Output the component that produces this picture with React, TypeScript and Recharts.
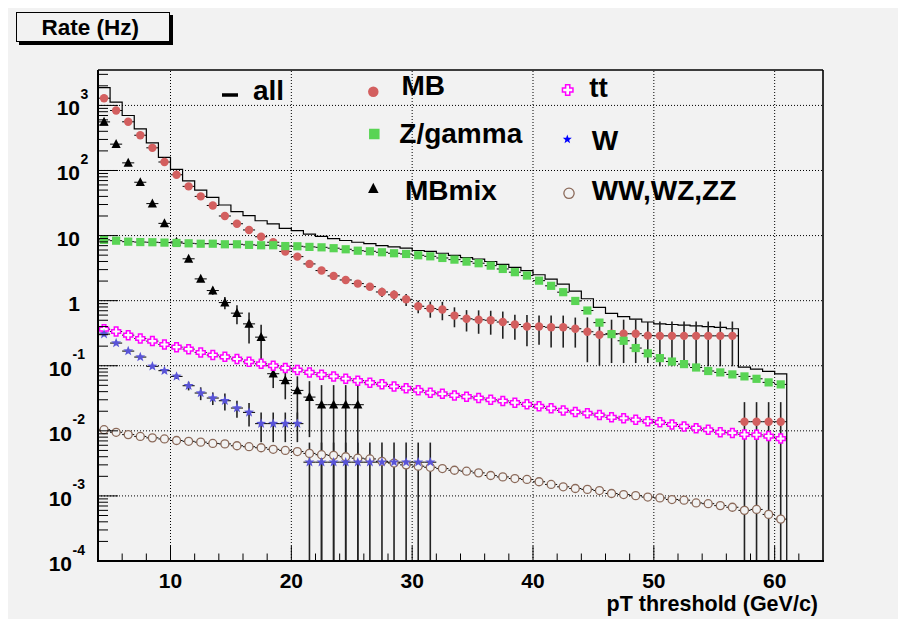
import React from 'react';
import { ComposedChart, Scatter, Line, XAxis, YAxis, ErrorBar, ReferenceLine } from 'recharts';

// canvas / frame geometry, in chart pixels
const CW = 898;
const CH = 611;
const PLOT_LEFT = 90;
const PLOT_RIGHT = 815;
const PLOT_TOP = 62;
const PLOT_BOTTOM = 553;
const BG = '#f2f2f2';
const FONT = '"Liberation Sans", Arial, Helvetica, sans-serif';

const X_MIN = 4;
const X_MAX = 64;
const Y_MIN = 1e-4;
const Y_MAX = 3500;
const BIN_LOW = 4; // bins are 1 GeV/c wide, first one starts at 4

// axis ticks
const xMajorTicks = [10, 20, 30, 40, 50, 60];
const xTickLabels = ['10', '20', '30', '40', '50', '60'];
const xMinorTicks = [6, 8, 12, 14, 16, 18, 22, 24, 26, 28, 32, 34, 36, 38, 42, 44, 46, 48, 52, 54, 56, 58, 62];
const yMajorTicks = [1e-4, 1e-3, 1e-2, 1e-1, 1, 10, 100, 1000];
const yTickBase = ['10', '10', '10', '10', '1', '10', '10', '10'];
const yTickExp = ['-4', '-3', '-2', '-1', '', '', '2', '3'];
const yMinorSteps = [2, 3, 4, 5, 6, 7, 8, 9];

// rates (Hz) per pT-threshold bin, bins 4-5, 5-6, ...
const allRate = [
  1870, 1120, 700, 436, 266, 159, 104, 69.5, 50, 38.7, 29.5, 23.3, 20.2, 16.9, 15.1, 12.9, 11.9, 10.5, 9.7,
  9.0, 8.4, 7.9, 7.5, 7.0, 6.7, 6.4, 5.9, 5.7, 5.35, 4.95, 4.6, 4.35, 4.0, 3.6, 3.25, 2.9, 2.5, 2.15,
  1.79, 1.4, 1.07, 0.79, 0.64, 0.57, 0.52, 0.47, 0.44, 0.43, 0.42, 0.41, 0.4, 0.39, 0.37, 0.095, 0.089, 0.082, 0.075,
];

const mbRate = [
  1290, 835, 560, 348, 223, 135, 86, 57, 40, 29, 20, 15.2, 12.2, 9.6, 7.9, 5.7, 4.75, 3.67, 2.9, 2.4,
  2.08, 1.83, 1.64, 1.36, 1.23, 1.05, 0.82, 0.757, 0.73, 0.59, 0.526, 0.51, 0.5, 0.47, 0.43, 0.4, 0.4, 0.39, 0.39, 0.37,
  0.333, 0.3, 0.31, 0.31, 0.31, 0.29, 0.288, 0.288, 0.288, 0.288, 0.288, 0.288, 0.288, 0.0138, 0.0138, 0.0138, 0.0138,
];
const mbErr = [
  0, 0, 0, 0, 0, 0, 0, 0, 0, 0, 0, 0, 0, 0, 0, 0, 0, 0, 0, 0,
  0.05, 0.08, 0.15, 0.22, 0.2, 0.22, 0.18, 0.21, 0.23, 0.2, 0.19, 0.2, 0.2, 0.21, 0.18, 0.2, 0.19, 0.2, 0.2, 0.18,
  0.22, 0.2, 0.2, 0.2, 0.2, 0.18, 0.19, 0.19, 0.19, 0.19, 0.19, 0.19, 0.19, 0.0138, 0.0138, 0.0138, 0.0138,
];

const zRate = [
  8.6, 8.35, 8.06, 7.95, 7.9, 7.8, 7.7, 7.6, 7.5, 7.5, 7.35, 7.35, 7.2, 7.1, 7.1, 6.9, 6.85, 6.7, 6.6, 6.4,
  6.16, 5.86, 5.74, 5.54, 5.35, 5.22, 4.98, 4.8, 4.53, 4.27, 3.98, 3.76, 3.45, 3.07, 2.74, 2.43, 2.03, 1.69, 1.35, 0.99,
  0.705, 0.46, 0.306, 0.242, 0.187, 0.155, 0.131, 0.116, 0.106, 0.094, 0.083, 0.079, 0.0736, 0.0686, 0.063, 0.0555, 0.0517,
];

const mbmixRate = [
  558, 254, 131, 66, 31, 15.4, 8.0, 4.4, 2.16, 1.43, 0.935, 0.643, 0.44, 0.275, 0.0754, 0.0595, 0.0418, 0.033,
  0.0252, 0.0252, 0.0252, 0.0252,
];
const mbmixErr = [
  0, 0, 0, 0, 0, 0, 0, 0.35, 0.12, 0.2, 0.2, 0.21, 0.22, 0.15, 0.03, 0.029, 0.027, 0.025,
  0.0252, 0.0252, 0.0252, 0.0252,
];

const ttRate = [
  0.365, 0.336, 0.295, 0.262, 0.239, 0.212, 0.193, 0.18, 0.16, 0.146, 0.137, 0.127, 0.115, 0.107, 0.1, 0.092, 0.086, 0.079, 0.073, 0.0686,
  0.063, 0.059, 0.055, 0.052, 0.048, 0.045, 0.042, 0.0385, 0.037, 0.035, 0.0335, 0.032, 0.03, 0.0288, 0.0271, 0.0255, 0.0238, 0.0222, 0.0206, 0.0195,
  0.0186, 0.0175, 0.0161, 0.0156, 0.0148, 0.014, 0.0135, 0.0125, 0.0117, 0.011, 0.0104, 0.0095, 0.0093, 0.0088, 0.0087, 0.0083, 0.0076,
];

const wRate = [
  0.306, 0.223, 0.168, 0.136, 0.098, 0.084, 0.0686, 0.0493, 0.0381, 0.0319, 0.029, 0.0224, 0.0192, 0.0129, 0.0129, 0.0129, 0.0129,
  0.0033, 0.0033, 0.0033, 0.0033, 0.0033, 0.0033, 0.0033, 0.0033, 0.0033, 0.0033, 0.0033,
];
const wErr = [
  0, 0, 0, 0, 0.005, 0.005, 0.006, 0.0075, 0.0085, 0.007, 0.0085, 0.0065, 0.0075, 0.0062, 0.0062, 0.0062, 0.0062,
  0.0033, 0.0033, 0.0033, 0.0033, 0.0033, 0.0033, 0.0033, 0.0033, 0.0033, 0.0033, 0.0033,
];

const dibosonRate = [
  0.0104, 0.0095, 0.00875, 0.0082, 0.0078, 0.0075, 0.0071, 0.0069, 0.0067, 0.0064, 0.0063, 0.0059, 0.0057, 0.0055, 0.0052, 0.005, 0.0048, 0.0045, 0.0043, 0.0042,
  0.004, 0.0038, 0.0037, 0.0034, 0.0032, 0.003, 0.00286, 0.00275, 0.00263, 0.00248, 0.0024, 0.00226, 0.00206, 0.00196, 0.00185, 0.00179, 0.00165, 0.0015, 0.00138, 0.0013,
  0.00126, 0.00121, 0.00109, 0.00105, 0.00101, 0.00096, 0.00093, 0.00088, 0.00086, 0.00078, 0.00076, 0.00071, 0.00067, 0.0006, 0.00062, 0.00052, 0.00044,
];

const MB_COLOR = '#d35f5f';
const Z_COLOR = '#59d454';
const MBMIX_COLOR = '#000000';
const TT_COLOR = '#ff00ff';
const W_COLOR = '#5954d8';
const W_LEGEND_COLOR = '#0000ff';
const VV_COLOR = '#8b6a5a';

// bin-centred points; y error clipped at the bottom of the log axis
const toPoints = (values: number[], sigma?: number[]) =>
  values.map((v, i) => {
    const s = sigma ? sigma[i] : 0;
    return { x: BIN_LOW + i + 0.5, y: v, ex: 0.5, ey: [Math.min(s, v - Y_MIN), s] };
  });

const allSteps = [...allRate.map((v, i) => ({ x: BIN_LOW + i, y: v })), { x: BIN_LOW + allRate.length, y: Y_MIN }];

const yMinorTicks = yMajorTicks.flatMap((d) => yMinorSteps.map((m) => m * d)).filter((v) => v < Y_MAX);
const yAllTicks = [...yMajorTicks, ...yMinorTicks].sort((a, b) => a - b);
const xAllTicks = [...xMajorTicks, ...xMinorTicks].sort((a, b) => a - b);

// ---- markers ----
const starPts = (cx: number, cy: number, R: number) => {
  const pts: string[] = [];
  for (let k = 0; k < 10; k++) {
    const rr = k % 2 === 0 ? R : R * 0.42;
    const a = -Math.PI / 2 + (k * Math.PI) / 5;
    pts.push(`${cx + rr * Math.cos(a)},${cy + rr * Math.sin(a)}`);
  }
  return pts.join(' ');
};

const crossPts = (cx: number, cy: number, s: number) => {
  const a = s / 2;
  const b = s * 0.2;
  const p = [[-b, -a], [b, -a], [b, -b], [a, -b], [a, b], [b, b], [b, a], [-b, a], [-b, b], [-a, b], [-a, -b], [-b, -b]];
  return p.map(([dx, dy]) => `${cx + dx},${cy + dy}`).join(' ');
};

const Marker = ({ kind, cx, cy, size, color }: { kind: string; cx: number; cy: number; size: number; color: string }) => {
  if (kind === 'circle') return <circle cx={cx} cy={cy} r={size / 2} fill={color} />;
  if (kind === 'square') return <rect x={cx - size / 2} y={cy - size / 2} width={size} height={size} fill={color} />;
  if (kind === 'triangle')
    return <polygon points={`${cx},${cy - size * 0.55} ${cx + size / 2},${cy + size * 0.42} ${cx - size / 2},${cy + size * 0.42}`} fill={color} />;
  if (kind === 'cross') return <polygon points={crossPts(cx, cy, size)} fill="#fbfbfb" stroke={color} strokeWidth={1.5} />;
  if (kind === 'star') return <polygon points={starPts(cx, cy, size / 2)} fill={color} />;
  return <circle cx={cx} cy={cy} r={size / 2 - 0.6} fill={BG} stroke={color} strokeWidth={1.3} />;
};

const shapeOf = (kind: string, size: number, color: string) => (p: any) =>
  <Marker kind={kind} cx={p.cx} cy={p.cy} size={size} color={color} />;

// ---- axis ticks (drawn inside the frame, ROOT style) ----
const XTick = (props: any) => {
  const { x, payload } = props;
  const idx = xMajorTicks.indexOf(payload.value);
  const major = idx >= 0;
  return (
    <g>
      <line x1={x} x2={x} y1={PLOT_BOTTOM} y2={PLOT_BOTTOM - (major ? 15 : 7.5)} stroke="#000" strokeWidth={1} />
      {major && (
        <text x={x} y={PLOT_BOTTOM + 26.5} textAnchor="middle" fontFamily={FONT} fontWeight="bold" fontSize={21} fill="#000">
          {xTickLabels[idx]}
        </text>
      )}
    </g>
  );
};

const YTick = (props: any) => {
  const { y, payload } = props;
  const v = payload.value;
  const idx = yMajorTicks.findIndex((m) => Math.abs(Math.log10(m) - Math.log10(v)) < 1e-6);
  const major = idx >= 0;
  const exp = major ? yTickExp[idx] : '';
  const baseEnd = exp.startsWith('-') ? 64 : 72;
  return (
    <g>
      <line x1={PLOT_LEFT} x2={PLOT_LEFT + (major ? 20 : 10)} y1={y} y2={y} stroke="#000" strokeWidth={1} />
      {major && (
        <g fontFamily={FONT} fontWeight="bold" fill="#000">
          <text x={baseEnd} y={y + 10} textAnchor="end" fontSize={21}>
            {yTickBase[idx]}
          </text>
          {exp && (
            <text x={baseEnd + 0.5} y={y - 6.5} textAnchor="start" fontSize={14}>
              {exp}
            </text>
          )}
        </g>
      )}
    </g>
  );
};

const legendText = { fontFamily: FONT, fontWeight: 'bold' as const, fontSize: 28, fill: '#000' };

const App: React.FC = () => {
  return (
    <div style={{ position: 'relative', width: CW, height: CH, background: BG }}>
      <ComposedChart width={CW} height={CH} margin={{ top: PLOT_TOP, right: CW - PLOT_RIGHT, bottom: 0, left: 0 }}>
        <XAxis
          type="number"
          dataKey="x"
          domain={[X_MIN, X_MAX]}
          allowDataOverflow
          ticks={xAllTicks}
          interval={0}
          tick={(p: any) => <XTick {...p} />}
          tickLine={false}
          axisLine={false}
          tickSize={0}
          tickMargin={0}
          height={CH - PLOT_BOTTOM}
        />
        <YAxis
          type="number"
          scale="log"
          domain={[Y_MIN, Y_MAX]}
          allowDataOverflow
          ticks={yAllTicks}
          interval={0}
          tick={(p: any) => <YTick {...p} />}
          tickLine={false}
          axisLine={false}
          tickSize={0}
          tickMargin={0}
          width={PLOT_LEFT}
        />
        {xMajorTicks.map((v) => (
          <ReferenceLine key={`gx${v}`} x={v} stroke="#000" strokeWidth={1} strokeDasharray="1 2" />
        ))}
        {yMajorTicks.slice(1).map((v) => (
          <ReferenceLine key={`gy${v}`} y={v} stroke="#000" strokeWidth={1} strokeDasharray="1 2" />
        ))}

        <Line data={allSteps} dataKey="y" type="stepAfter" stroke="#000" strokeWidth={1.2} dot={false} isAnimationActive={false} />

        <Scatter data={toPoints(mbRate, mbErr)} dataKey="y" shape={shapeOf('circle', 8.4, MB_COLOR)} isAnimationActive={false}>
          <ErrorBar dataKey="ex" direction="x" width={0} stroke="#000" strokeWidth={1} />
          <ErrorBar dataKey="ey" direction="y" width={0} stroke="#222" strokeWidth={1.6} />
        </Scatter>
        <Scatter data={toPoints(mbmixRate, mbmixErr)} dataKey="y" shape={shapeOf('triangle', 9.2, MBMIX_COLOR)} isAnimationActive={false}>
          <ErrorBar dataKey="ex" direction="x" width={0} stroke="#000" strokeWidth={1} />
          <ErrorBar dataKey="ey" direction="y" width={0} stroke="#222" strokeWidth={1.6} />
        </Scatter>
        <Scatter data={toPoints(zRate)} dataKey="y" shape={shapeOf('square', 8.2, Z_COLOR)} isAnimationActive={false}>
          <ErrorBar dataKey="ex" direction="x" width={0} stroke="#000" strokeWidth={1} />
        </Scatter>
        <Scatter data={toPoints(dibosonRate)} dataKey="y" shape={shapeOf('ocircle', 9.2, VV_COLOR)} isAnimationActive={false}>
          <ErrorBar dataKey="ex" direction="x" width={0} stroke="#000" strokeWidth={1} />
        </Scatter>
        <Scatter data={toPoints(ttRate)} dataKey="y" shape={shapeOf('cross', 9, TT_COLOR)} isAnimationActive={false}>
          <ErrorBar dataKey="ex" direction="x" width={0} stroke="#000" strokeWidth={1} />
        </Scatter>
        <Scatter data={toPoints(wRate, wErr)} dataKey="y" shape={shapeOf('star', 10.5, W_COLOR)} isAnimationActive={false}>
          <ErrorBar dataKey="ex" direction="x" width={0} stroke="#000" strokeWidth={1} />
          <ErrorBar dataKey="ey" direction="y" width={0} stroke="#222" strokeWidth={1.6} />
        </Scatter>
      </ComposedChart>

      <svg width={CW} height={CH} style={{ position: 'absolute', left: 0, top: 0, pointerEvents: 'none' }}>
        {/* frame */}
        <line x1={PLOT_LEFT} x2={PLOT_RIGHT} y1={PLOT_TOP} y2={PLOT_TOP} stroke="#000" strokeWidth={1.4} />
        <line x1={PLOT_RIGHT} x2={PLOT_RIGHT} y1={PLOT_TOP} y2={PLOT_BOTTOM} stroke="#000" strokeWidth={1.6} />
        <line x1={PLOT_LEFT} x2={PLOT_LEFT} y1={PLOT_TOP} y2={PLOT_BOTTOM + 1} stroke="#000" strokeWidth={2} />
        <line x1={PLOT_LEFT} x2={PLOT_RIGHT + 1} y1={PLOT_BOTTOM} y2={PLOT_BOTTOM} stroke="#000" strokeWidth={2} />

        {/* title box */}
        <rect x={11} y={7} width={154} height={30} fill="#000" />
        <rect x={8.5} y={4.5} width={153} height={29} fill={BG} stroke="#000" strokeWidth={1} />
        <text x={33.5} y={27} fontFamily={FONT} fontWeight="bold" fontSize={22.5} fill="#000">
          Rate (Hz)
        </text>

        {/* legend */}
        <line x1={214} x2={230} y1={87} y2={87} stroke="#000" strokeWidth={3.5} />
        <text x={245} y={92} {...legendText}>all</text>

        <Marker kind="circle" cx={365.3} cy={83.7} size={10.5} color={MB_COLOR} />
        <text x={393.5} y={87} {...legendText}>MB</text>
        <Marker kind="square" cx={366.3} cy={126} size={10.5} color={Z_COLOR} />
        <text x={391.3} y={135} {...legendText}>Z/gamma</text>
        <Marker kind="triangle" cx={365.3} cy={180.5} size={10.5} color={MBMIX_COLOR} />
        <text x={397} y={192} {...legendText}>MBmix</text>

        <Marker kind="cross" cx={559.7} cy={82} size={10.5} color={TT_COLOR} />
        <text x={581.3} y={88.5} {...legendText}>tt</text>
        <Marker kind="star" cx={559.3} cy={131.3} size={9.5} color={W_LEGEND_COLOR} />
        <text x={583.7} y={142} {...legendText}>W</text>
        <Marker kind="ocircle" cx={561} cy={185.3} size={11.5} color={VV_COLOR} />
        <text x={583.7} y={192} {...legendText}>WW,WZ,ZZ</text>

        {/* x axis title */}
        <text x={810} y={603} textAnchor="end" fontFamily={FONT} fontWeight="bold" fontSize={21.5} fill="#000">
          pT threshold (GeV/c)
        </text>
      </svg>
    </div>
  );
};

export default App;
